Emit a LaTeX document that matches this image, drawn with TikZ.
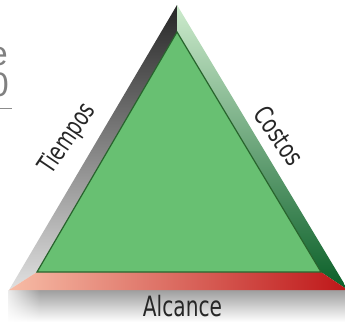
\documentclass[tikz,border=0pt]{standalone}
\usepackage{fontspec}
\usetikzlibrary{fadings}
\setmainfont{DejaVu Sans}
\newfontfamily\graytext{Liberation Sans}
\tikzfading[name=whiteleft, left color=transparent!0, right color=transparent!100]
\begin{document}
\begin{tikzpicture}[x=1pt,y=-1pt,
  lbl/.style={font=\fontsize{26}{28}\selectfont, text=black!85, inner sep=0pt},
  blbl/.style={font=\fontsize{28}{30}\selectfont, text=black!85, inner sep=0pt},
  cut/.style={font=\graytext\fontsize{34}{36}\selectfont, text=black!50, inner sep=0pt, anchor=east}]
\useasboundingbox (0,0) rectangle (345,322);
\clip (0,0) rectangle (345,322);
% geometry
\coordinate (OA) at (177,5);
\coordinate (OL) at (9,290);
\coordinate (OR) at (348,290);
\coordinate (IA) at (177,32);
\coordinate (IL) at (37,272);
\coordinate (IR) at (321,272);
% shadow
\shade[top color=black!38, bottom color=white] (8,290) rectangle (345,322);
\fill[white, path fading=whiteleft] (0,290) rectangle (40,322);
% left face
\shade[top color=black!85, bottom color=black!12] (OL) -- (OA) -- (IA) -- (IL) -- cycle;
% right face
\shade[top color={rgb,255:red,205;green,235;blue,205}, bottom color={rgb,255:red,10;green,95;blue,40}] (OA) -- (OR) -- (IR) -- (IA) -- cycle;
% bottom face
\shade[left color={rgb,255:red,247;green,188;blue,166}, right color={rgb,255:red,190;green,22;blue,24}] (OL) -- (IL) -- (IR) -- (OR) -- cycle;
% inner triangle
\filldraw[fill={rgb,255:red,104;green,192;blue,114}, draw={rgb,255:red,40;green,100;blue,45}, line width=1.2pt] (IA) -- (IL) -- (IR) -- cycle;
% labels
\node[lbl, rotate=56] (tiempos) at (68,139) {\scalebox{0.72}[1]{Tiempos}};
\node[lbl, rotate=-55] (costos) at (279,136) {\scalebox{0.74}[1]{Costos}};
\node[blbl] (alcance) at (182.5,306) {\scalebox{0.72}[1]{Alcance}};
% cut-off text at top left
\node[cut] (e) at (8,57) {e};
\node[cut] (zero) at (9,85) {0};
\draw[black!45, line width=0.8pt] (0,108) -- (12,108);
\end{tikzpicture}
\end{document}
